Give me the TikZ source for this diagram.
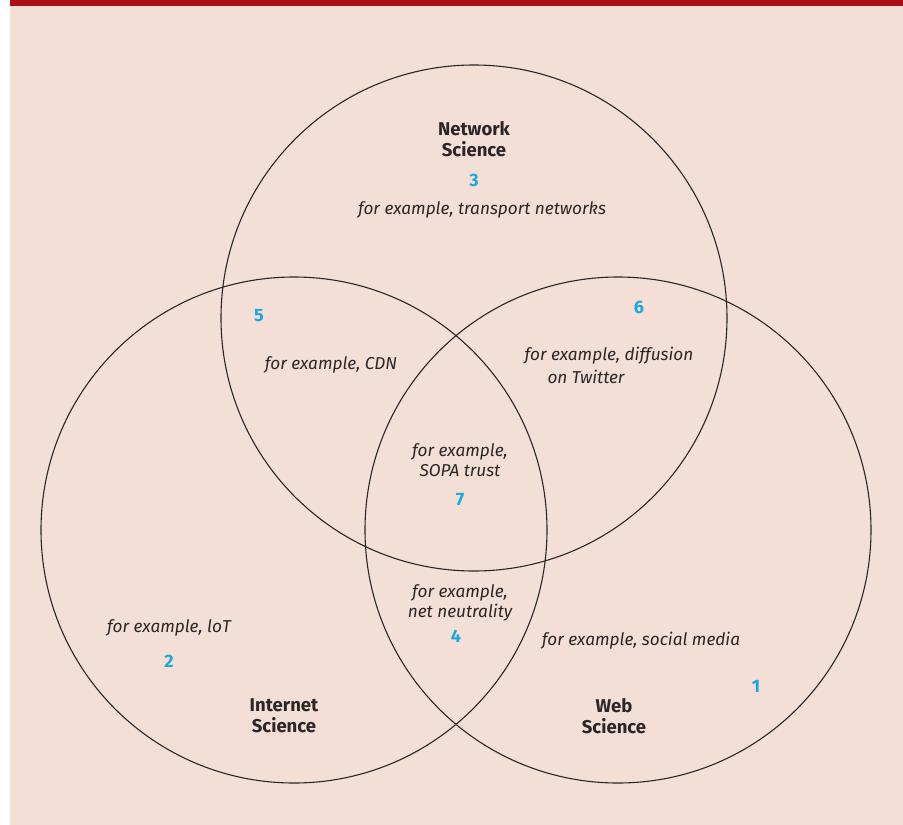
\documentclass[tikz,border=0pt]{standalone}
\usepackage{fontspec}
\setmainfont{Fira Sans}
\definecolor{bgpink}{HTML}{F3DFD6}
\definecolor{barred}{HTML}{AD0F16}
\definecolor{numcyan}{HTML}{1AA8E0}
\definecolor{txt}{HTML}{2A2627}
\tikzset{
  venn/.style={draw=txt, line width=1.1pt},
  title/.style={font=\fontsize{18.5}{21}\selectfont\bfseries, text=txt, align=center, inner sep=0pt},
  ex/.style={font=\fontsize{17.2}{20.5}\selectfont\itshape, text=txt, align=center, inner sep=0pt},
  num/.style={font=\fontsize{18}{20}\selectfont\bfseries, text=numcyan, inner sep=0pt}
}
\begin{document}
\begin{tikzpicture}[x=1pt,y=-1pt]
\useasboundingbox (0,0) rectangle (903,825);
\fill[white] (0,0) rectangle (903,825);
\fill[bgpink] (10,0) rectangle (903,825);
\fill[barred] (10,0) rectangle (903,6);
% circles
\node[venn, circle, minimum size=506pt, inner sep=0pt] (net) at (474,318) {};
\node[venn, circle, minimum size=506pt, inner sep=0pt] (inet) at (294,530) {};
\node[venn, circle, minimum size=506pt, inner sep=0pt] (web) at (618,530) {};
% Network
\node[title] (nettitle) at (474,139) {Network\\Science};
\node[num] (n3) at (474,180) {3};
\node[ex] (e3) at (482,210) {for example, transport networks};
% 5
\node[num] (n5) at (259,316) {5};
\node[ex] (e5) at (331,365) {for example, CDN};
% 6
\node[num] (n6) at (639,307) {6};
\node[ex] (e6a) at (609,356) {for example, diffusion};
\node[ex] (e6b) at (586,377) {on Twitter};
% 7
\node[ex] (e7) at (460,460) {for example,\\SOPA trust};
\node[num] (n7) at (460,500) {7};
% 4
\node[ex] (e4) at (460,603) {for example,\\net neutrality};
\node[num] (n4) at (456,636) {4};
% 2
\node[ex] (e2) at (169,628) {for example, loT};
\node[num] (n2) at (169,661) {2};
\node[title] (inettitle) at (284,716) {Internet\\Science};
% 1
\node[ex] (e1) at (641,641) {for example, social media};
\node[num] (n1) at (756,686) {1};
\node[title] (webtitle) at (614,716) {Web\\Science};
\end{tikzpicture}
\end{document}
